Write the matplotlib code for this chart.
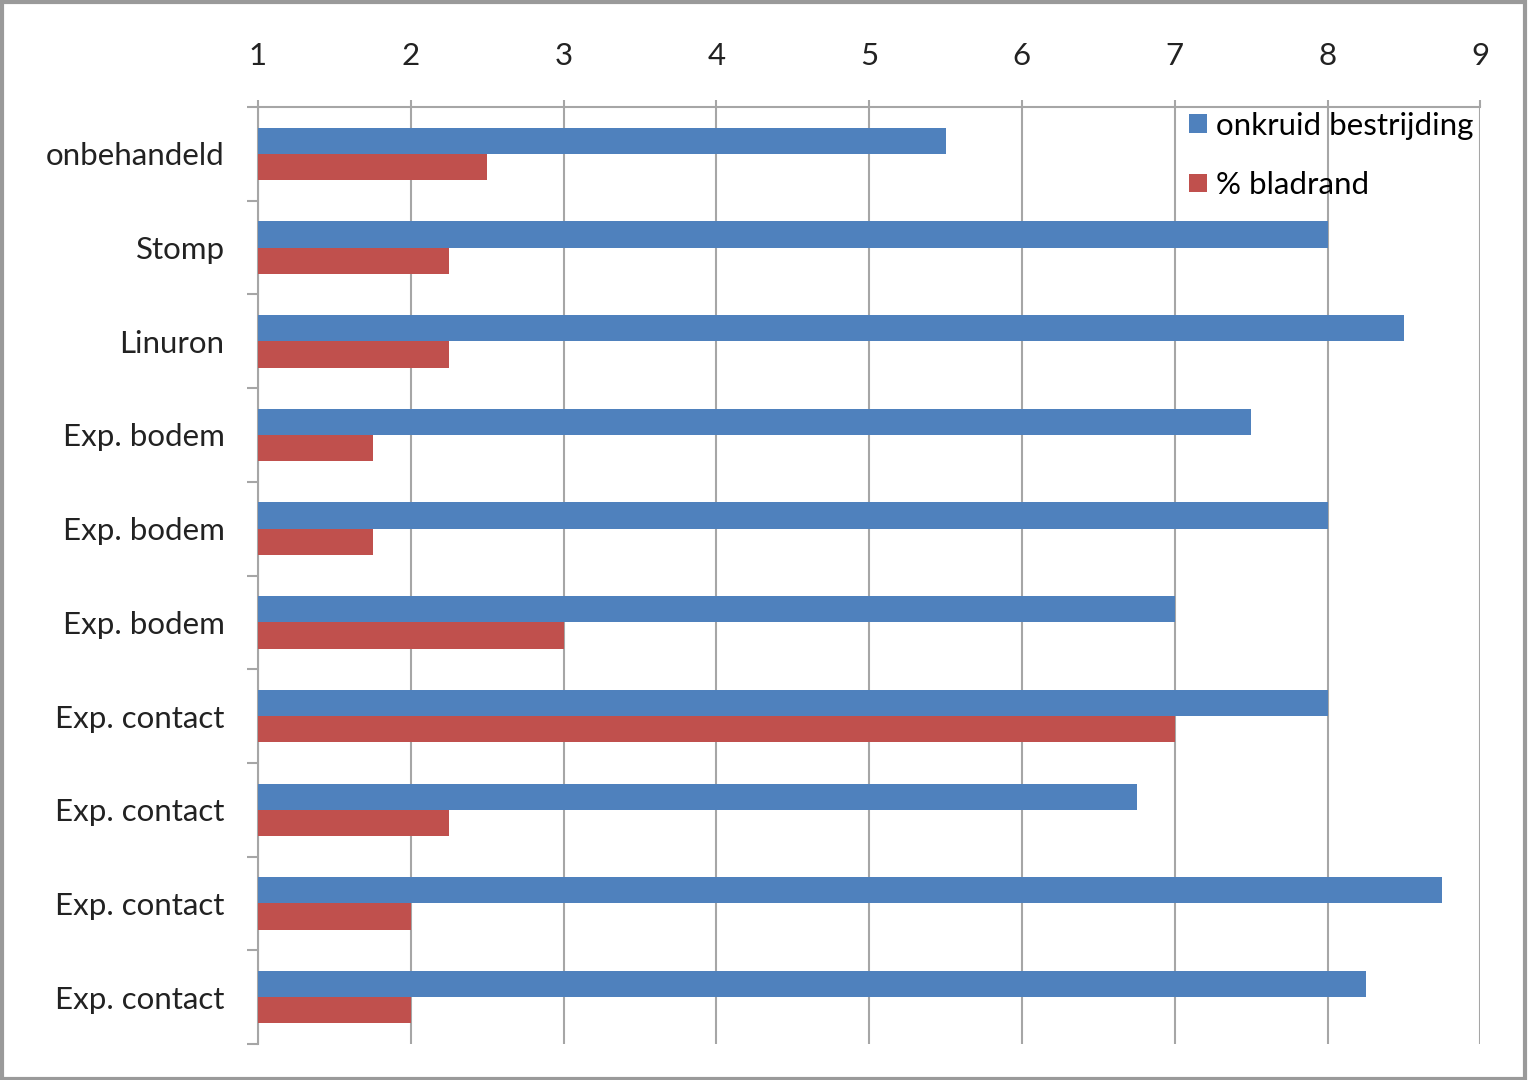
import numpy as np
import matplotlib
matplotlib.use("Agg")
import matplotlib.pyplot as plt
from matplotlib.patches import Rectangle

# data
categories = ["onbehandeld", "Stomp", "Linuron", "Exp. bodem", "Exp. bodem",
              "Exp. bodem", "Exp. contact", "Exp. contact", "Exp. contact", "Exp. contact"]
onkruid = [5.5, 8, 8.5, 7.5, 8, 7, 8, 6.75, 8.75, 8.25]
bladrand = [2.5, 2.25, 2.25, 1.75, 1.75, 3, 7, 2.25, 2, 2]
xticks = [1, 2, 3, 4, 5, 6, 7, 8, 9]

plt.rcParams['font.family'] = ['Lato', 'DejaVu Sans']

blue = '#4F81BD'
red = '#C0504D'
gray = '#A6A6A6'
fs = 22.5

fig = plt.figure(figsize=(15.28, 10.8), dpi=100)
ax = fig.add_axes([0.1688, 0.0333, 0.8, 0.8676])

y = np.arange(len(categories))
h = 0.28
base = 1
ax.barh(y - h/2, np.array(onkruid) - base, height=h, left=base, color=blue,
        label='onkruid bestrijding', zorder=3)
ax.barh(y + h/2, np.array(bladrand) - base, height=h, left=base, color=red,
        label='% bladrand', zorder=3)

ax.set_xlim(1, 9)
ax.set_ylim(len(categories) - 0.5, -0.5)
ax.xaxis.tick_top()
ax.set_xticks(xticks)
ax.set_xticklabels([str(t) for t in xticks])
ax.set_yticks(y)
ax.set_yticklabels(categories)
ax.set_yticks(np.arange(len(categories) + 1) - 0.5, minor=True)

ax.tick_params(axis='x', which='major', length=5, width=1.5, color=gray,
               labelsize=fs, pad=22, labelcolor='#222222')
ax.tick_params(axis='y', which='major', length=0, labelsize=fs, pad=24,
               labelcolor='#222222')
ax.tick_params(axis='y', which='minor', length=8, width=1.5, color=gray)

ax.grid(axis='x', color=gray, lw=1.5, zorder=0)
for s in ['right', 'bottom']:
    ax.spines[s].set_visible(False)
for s in ['left', 'top']:
    ax.spines[s].set_color(gray)
    ax.spines[s].set_linewidth(1.5)

ax.legend(loc='upper right', bbox_to_anchor=(0.9725, 0.908),
          bbox_transform=fig.transFigure, frameon=False, fontsize=fs,
          handlelength=0.55, handleheight=0.55, handletextpad=0.3,
          labelspacing=1.0, borderaxespad=0)

# outer frame of the chart
fig.patches.append(Rectangle((0.001, 0.001), 0.997, 0.997, transform=fig.transFigure,
                             fill=False, edgecolor='#9A9A9A', lw=3))

fig.savefig('out.png', dpi=100)
